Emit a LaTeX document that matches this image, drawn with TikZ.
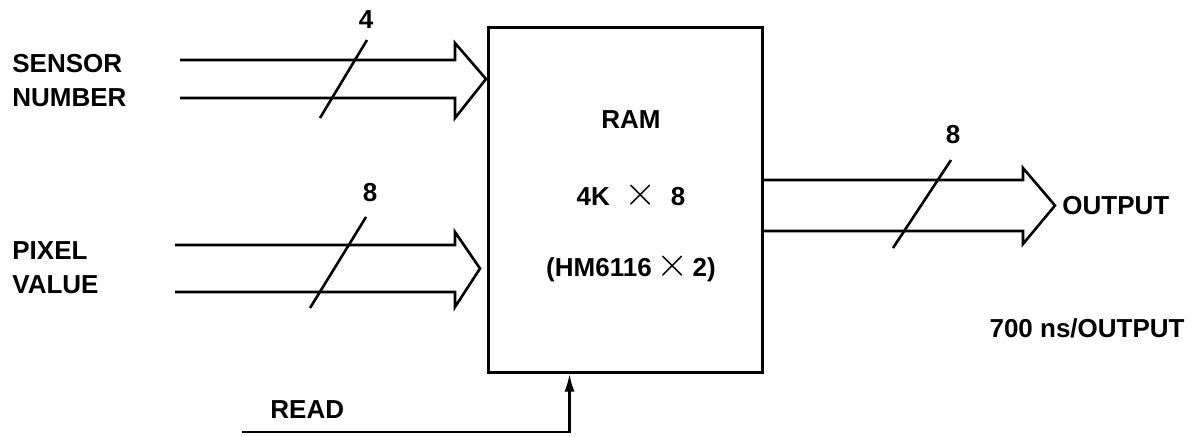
\documentclass[tikz,border=0pt]{standalone}
\usepackage{fontspec}
\setmainfont{Liberation Sans}
\usetikzlibrary{arrows.meta}
\newcommand{\bigtimes}{{\fontsize{21}{21}\selectfont$\times$}}
\begin{document}
\begin{tikzpicture}[x=0.5pt,y=-0.5pt,>={Latex[length=9pt,width=5pt]},
  bus/.style={line width=1.3pt,line join=miter},
  lbl/.style={font=\fontsize{13}{17}\selectfont\bfseries,inner sep=0pt,align=left}]
\useasboundingbox (0,0) rectangle (1196,436);
\node[draw,line width=1.5pt,minimum width=137pt,minimum height=172.5pt,inner sep=0pt](ram) at (625,199.5){};
\node[lbl] (ramname) at (631,120){RAM};
\node[lbl] (ramsize) at (631,195){4K\ \ \bigtimes\ \ 8};
\node[lbl] (ramchips) at (631,267){(HM6116\,\bigtimes\,2)};

% sensor number bus
\node[lbl,anchor=west](sensor) at (12,81){SENSOR\\NUMBER};
\draw[bus](180,60)--(455,60)--(455,43)--(486,79)--(455,118)--(455,98)--(180,98);
\draw[bus](320,118)--(367,40);
\node[lbl](nsensor) at (366,20){4};

% pixel value bus
\node[lbl,anchor=west](pixel) at (12,268){PIXEL\\VALUE};
\draw[bus](175,245)--(455,245)--(455,232)--(480,268.5)--(455,307)--(455,292)--(175,292);
\draw[bus](310,308)--(366,217);
\node[lbl](npixel) at (370,193){8};

% output bus
\draw[bus](ram.east |- 0,180)--(1023,180)--(1023,168)--(1055,205.5)--(1023,244)--(1023,231)--(ram.east |- 0,231);
\draw[bus](893,248)--(951,160);
\node[lbl](nout) at (953,135){8};
\node[lbl,anchor=west](output) at (1062,206){OUTPUT};
\node[lbl,anchor=east](rate) at (1185,328){700 ns/OUTPUT};

% read line
\node[lbl,anchor=west](read) at (270,410){READ};
\coordinate (rd) at (242,432);
\draw[bus,->](rd)-|([xshift=41.5pt]ram.south west);
\end{tikzpicture}
\end{document}
